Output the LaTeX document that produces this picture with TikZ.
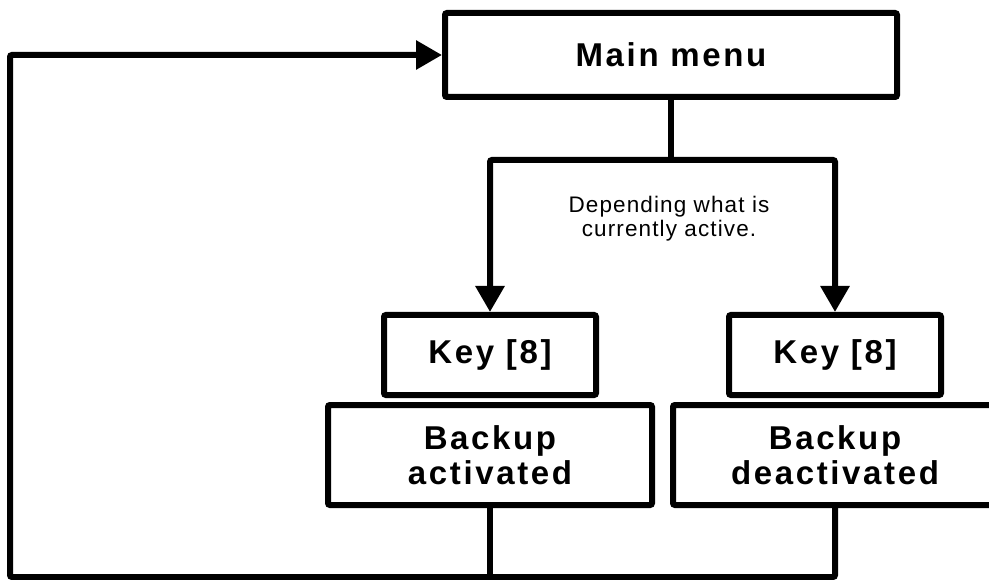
\documentclass[tikz,border=0pt]{standalone}
\usepackage{fontspec}
\setmainfont{Liberation Sans}
\newfontfamily\boxfont[LetterSpace=8]{Liberation Sans}
\newfontfamily\notefont[LetterSpace=5]{Liberation Sans}
\usetikzlibrary{arrows.meta}
\begin{document}
\begin{tikzpicture}[x=1pt, y=-1pt,
  box/.style={draw, rectangle, rounded corners=2pt, line width=6pt,
    align=center, inner sep=0pt,
    font=\boxfont\bfseries\fontsize{33}{35}\selectfont},
  link/.style={line width=6pt, rounded corners=2pt},
  arr/.style={link, -{Triangle[length=26pt, width=28pt]}}]
\useasboundingbox (0,0) rectangle (989,580);
\clip (0,0) rectangle (989,580);

% boxes
\node[box, minimum width=452pt, minimum height=84pt] (main) at (671,55) {Main menu};
\node[box, minimum width=212pt, minimum height=80pt] (keyL) at (490,355) {Key [8]};
\node[box, minimum width=212pt, minimum height=80pt] (keyR) at (835,355) {Key [8]};
\node[box, minimum width=324pt, minimum height=100pt] (backL) at (490,455) {Backup\\activated};
\node[box, minimum width=324pt, minimum height=100pt] (backR) at (835,455) {Backup\\deactivated};

% remark between the branches
\node[align=center, inner sep=0pt, font=\notefont\fontsize{22.5}{24}\selectfont] (note) at (669,219)
  {Depending what is\\currently active.};

% helper points of the routing
\coordinate (split) at (671,160);
\coordinate (floor) at (0,577);
\coordinate (leftx) at (10,0);

% branch from the main menu to both keys
\draw[link] (main.south) -- (split);
\draw[arr] (split) -- (split -| keyL.north) -- (keyL.north);
\draw[arr] (split) -- (split -| keyR.north) -- (keyR.north);

% return path back to the main menu
\draw[link] (backL.south) -- (backL.south |- floor);
\draw[arr] (backR.south) -- (backR.south |- floor) -- (leftx |- floor)
  -- (leftx |- main.west) -- (main.west);
\end{tikzpicture}
\end{document}
